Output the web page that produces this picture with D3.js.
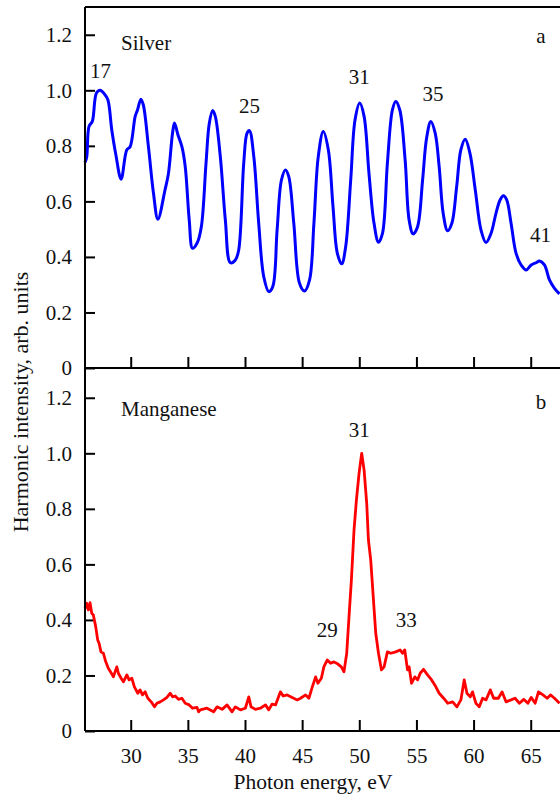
<!DOCTYPE html>
<html>
<head>
<meta charset="utf-8">
<script src="https://cdn.jsdelivr.net/npm/d3@7"></script>
<style>
  body { margin: 0; background: #fff; }
  svg { display: block; }
  svg text { font-family: "Liberation Serif", "Times New Roman", serif; }
</style>
</head>
<body>
<div id="chart"></div>
<script>
// ---- data ----
var xTicks = [30, 35, 40, 45, 50, 55, 60, 65];
var yTicks = [0, 0.2, 0.4, 0.6, 0.8, 1.0, 1.2];

// (a) silver, photon energy (eV) / intensity
var silverEnergy = [26.0, 26.15, 26.35, 26.64, 27.0, 27.32, 27.7, 28.0, 28.34, 28.7, 29.16, 29.66, 29.95, 30.39, 30.6, 30.89, 31.1,
  31.55, 31.99, 32.38, 33.0, 33.3, 33.66, 33.83, 34.13, 34.48, 34.77, 35.12, 35.41, 35.8, 36.18, 36.59, 36.88, 37.17, 37.4,
  37.84, 38.28, 38.72, 39.16, 39.45, 39.89, 40.18, 40.39, 40.77, 41.2, 41.64, 42.08, 42.43, 42.81, 43.19, 43.54, 43.83,
  44.27, 44.77, 45.21, 45.65, 46.03, 46.41, 46.85, 47.29, 47.7, 48.08, 48.46, 48.81, 49.25, 49.63, 50.04, 50.42, 50.85,
  51.29, 51.68, 52.03, 52.46, 52.9, 53.19, 53.54, 54.01, 54.36, 54.71, 55.1, 55.54, 55.89, 56.26, 56.64, 56.99, 57.34,
  57.73, 58.1, 58.52, 58.89, 59.27, 59.68, 60.15, 60.65, 61.09, 61.53, 61.96, 62.32, 62.61, 62.9, 63.28, 63.72, 64.16,
  64.6, 65.04, 65.47, 65.76, 66.2, 66.64, 67.08, 67.52];
var silverIntensity = [0.74, 0.76, 0.87, 0.888, 0.99, 1.0, 0.987, 0.966, 0.858, 0.768, 0.68, 0.786, 0.797, 0.906, 0.93, 0.968, 0.948,
  0.797, 0.63, 0.536, 0.641, 0.70, 0.846, 0.882, 0.84, 0.797, 0.725, 0.533, 0.431, 0.449, 0.509, 0.738, 0.882, 0.927, 0.906,
  0.761, 0.533, 0.379, 0.389, 0.425, 0.738, 0.846, 0.855, 0.761, 0.521, 0.329, 0.275, 0.293, 0.497, 0.677, 0.713, 0.689,
  0.521, 0.305, 0.277, 0.317, 0.521, 0.761, 0.852, 0.786, 0.581, 0.413, 0.375, 0.437, 0.677, 0.894, 0.954, 0.906, 0.70,
  0.521, 0.453, 0.485, 0.738, 0.93, 0.96, 0.93, 0.75, 0.533, 0.483, 0.509, 0.677, 0.828, 0.888, 0.846, 0.725, 0.557,
  0.494, 0.521, 0.653, 0.786, 0.824, 0.774, 0.641, 0.497, 0.452, 0.485, 0.557, 0.605, 0.62, 0.605, 0.521, 0.413, 0.371,
  0.353, 0.371, 0.379, 0.385, 0.371, 0.317, 0.287, 0.267];

// (b) manganese
var mnEnergy = [26.0, 26.15, 26.29, 26.44, 26.59, 26.73, 26.94, 27.11, 27.23, 27.4, 27.61, 27.81, 28.04, 28.28, 28.48, 28.78,
  28.92, 29.16, 29.36, 29.66, 29.86, 30.1, 30.32, 30.62, 30.82, 31.03, 31.26, 31.5, 31.79, 32.08, 32.29, 32.58, 32.87,
  33.17, 33.46, 33.66, 33.89, 34.18, 34.48, 34.77, 35.12, 35.41, 35.8, 35.94, 36.09, 36.67, 37.25, 37.55, 38.0, 38.43,
  38.87, 39.16, 39.6, 40.03, 40.33, 40.53, 40.91, 41.35, 41.79, 42.08, 42.37, 42.67, 43.1, 43.34, 43.69, 44.13, 44.57,
  44.86, 45.3, 45.59, 45.89, 46.18, 46.38, 46.68, 46.9, 47.2, 47.49, 47.78, 48.13, 48.43, 48.66, 48.9, 49.1, 49.31,
  49.54, 49.75, 49.98, 50.21, 50.42, 50.65, 50.8, 51.0, 51.2, 51.44, 51.68, 51.94, 52.17, 52.46, 52.75, 53.19, 53.57,
  53.78, 53.98, 54.22, 54.36, 54.57, 54.86, 55.1, 55.33, 55.62, 55.97, 56.33, 56.7, 56.99, 57.38, 57.73, 58.17, 58.54,
  58.89, 59.18, 59.42, 59.71, 59.91, 60.2, 60.5, 60.79, 61.09, 61.47, 61.76, 62.17, 62.49, 62.84, 63.28, 63.63, 64.01,
  64.39, 64.75, 65.04, 65.39, 65.68, 66.07, 66.44, 66.73, 67.08, 67.52];
var mnIntensity = [0.442, 0.46, 0.436, 0.462, 0.424, 0.418, 0.375, 0.328, 0.316, 0.285, 0.28, 0.25, 0.226, 0.21, 0.195, 0.231,
  0.208, 0.19, 0.177, 0.202, 0.184, 0.19, 0.159, 0.136, 0.148, 0.13, 0.141, 0.118, 0.105, 0.087, 0.1, 0.105, 0.112,
  0.121, 0.136, 0.123, 0.126, 0.114, 0.118, 0.1, 0.094, 0.082, 0.085, 0.069, 0.076, 0.082, 0.069, 0.087, 0.078, 0.094,
  0.069, 0.087, 0.076, 0.082, 0.123, 0.087, 0.078, 0.082, 0.094, 0.076, 0.097, 0.094, 0.141, 0.126, 0.13, 0.121, 0.112,
  0.118, 0.13, 0.118, 0.159, 0.195, 0.172, 0.19, 0.231, 0.256, 0.244, 0.249, 0.241, 0.231, 0.213, 0.28, 0.411, 0.544,
  0.724, 0.832, 0.928, 1.0, 0.94, 0.82, 0.688, 0.616, 0.496, 0.352, 0.28, 0.22, 0.231, 0.285, 0.28, 0.285, 0.292,
  0.28, 0.292, 0.22, 0.231, 0.172, 0.195, 0.184, 0.208, 0.222, 0.202, 0.184, 0.159, 0.136, 0.118, 0.1, 0.105, 0.087,
  0.112, 0.184, 0.136, 0.123, 0.141, 0.1, 0.087, 0.118, 0.112, 0.148, 0.118, 0.118, 0.141, 0.105, 0.112, 0.118, 0.1,
  0.114, 0.1, 0.121, 0.1, 0.141, 0.13, 0.118, 0.13, 0.118, 0.1];

// peak labels: harmonic order placed above its peak
var silverLabels = [
  {text: "17", e: 27.35, v: 1.045},
  {text: "25", e: 40.4, v: 0.92},
  {text: "31", e: 50.0, v: 1.023},
  {text: "35", e: 56.45, v: 0.96},
  {text: "41", e: 65.85, v: 0.455}
];
var mnLabels = [
  {text: "31", e: 50.0, v: 1.06},
  {text: "29", e: 47.2, v: 0.34},
  {text: "33", e: 54.1, v: 0.375}
];

// ---- layout ----
var W = 560, H = 796, fs = 21;
var left = 85, right = 565;

var svg = d3.select("#chart")
    .append("svg")
    .attr("width", W)
    .attr("height", H);

var x = d3.scaleLinear().domain([26, 68]).range([left, right]);
var yA = d3.scaleLinear().domain([0, 1.3]).range([368, 7]);
var yB = d3.scaleLinear().domain([0, 1.3]).range([731, 370]);

var fmt = function (d) { return d === 0 ? "0" : d3.format(".1f")(d); };

function drawPanel(y, energy, intensity, color, width, curve, labels, name, letter, nameY, showX) {
    // y axis, ticks inside
    var ya = svg.append("g")
        .attr("transform", "translate(" + left + ",0)")
        .call(d3.axisLeft(y).tickValues(yTicks).tickFormat(fmt).tickSize(-10).tickPadding(13));
    ya.select(".domain").remove();

    var xa = svg.append("g")
        .attr("transform", "translate(0," + y(0) + ")")
        .call(d3.axisBottom(x).tickValues(xTicks).tickSize(-11).tickPadding(17)
            .tickFormat(showX ? d3.format("d") : ""));
    xa.select(".domain").remove();

    [ya, xa].forEach(function (g) {
        g.attr("font-family", null).attr("font-size", fs);
        g.selectAll(".tick line").attr("stroke", "#000").attr("stroke-width", 2);
        g.selectAll(".tick text").attr("fill", "#111");
    });

    var pts = energy.map(function (e, i) { return [e, intensity[i]]; });
    var line = d3.line()
        .curve(curve)
        .x(function (d) { return x(d[0]); })
        .y(function (d) { return y(d[1]); });

    svg.append("path")
        .datum(pts)
        .attr("fill", "none")
        .attr("stroke", color)
        .attr("stroke-width", width)
        .attr("stroke-linejoin", "round")
        .attr("d", line);

    svg.selectAll(null)
        .data(labels)
        .enter().append("text")
        .attr("x", function (d) { return x(d.e); })
        .attr("y", function (d) { return y(d.v); })
        .attr("text-anchor", "middle")
        .attr("font-size", fs)
        .attr("fill", "#111")
        .text(function (d) { return d.text; });

    svg.append("text")
        .attr("x", left + 36)
        .attr("y", nameY)
        .attr("font-size", fs)
        .attr("fill", "#111")
        .text(name);

    svg.append("text")
        .attr("x", 541)
        .attr("y", nameY - 7)
        .attr("text-anchor", "middle")
        .attr("font-size", fs)
        .attr("fill", "#111")
        .text(letter);
}

drawPanel(yA, silverEnergy, silverIntensity, "#0000ff", 3, d3.curveCatmullRom, silverLabels, "Silver", "a", 50, false);
drawPanel(yB, mnEnergy, mnIntensity, "#ff0000", 2.8, d3.curveLinear, mnLabels, "Manganese", "b", 416, true);

// frame lines
var frame = [
    [left, 7, left, 731],
    [left, 7, W, 7],
    [left, 368, W, 368],
    [left, 731, W, 731]
];
svg.selectAll(null)
    .data(frame)
    .enter().append("line")
    .attr("x1", function (d) { return d[0]; })
    .attr("y1", function (d) { return d[1]; })
    .attr("x2", function (d) { return d[2]; })
    .attr("y2", function (d) { return d[3]; })
    .attr("stroke", "#000")
    .attr("stroke-width", 2);

// axis titles
svg.append("text")
    .attr("x", 313)
    .attr("y", 789)
    .attr("text-anchor", "middle")
    .attr("font-size", 21.5)
    .attr("fill", "#111")
    .text("Photon energy, eV");

svg.append("text")
    .attr("transform", "translate(28,402) rotate(-90)")
    .attr("text-anchor", "middle")
    .attr("font-size", 22)
    .attr("fill", "#111")
    .text("Harmonic intensity, arb. units");
</script>
</body>
</html>
